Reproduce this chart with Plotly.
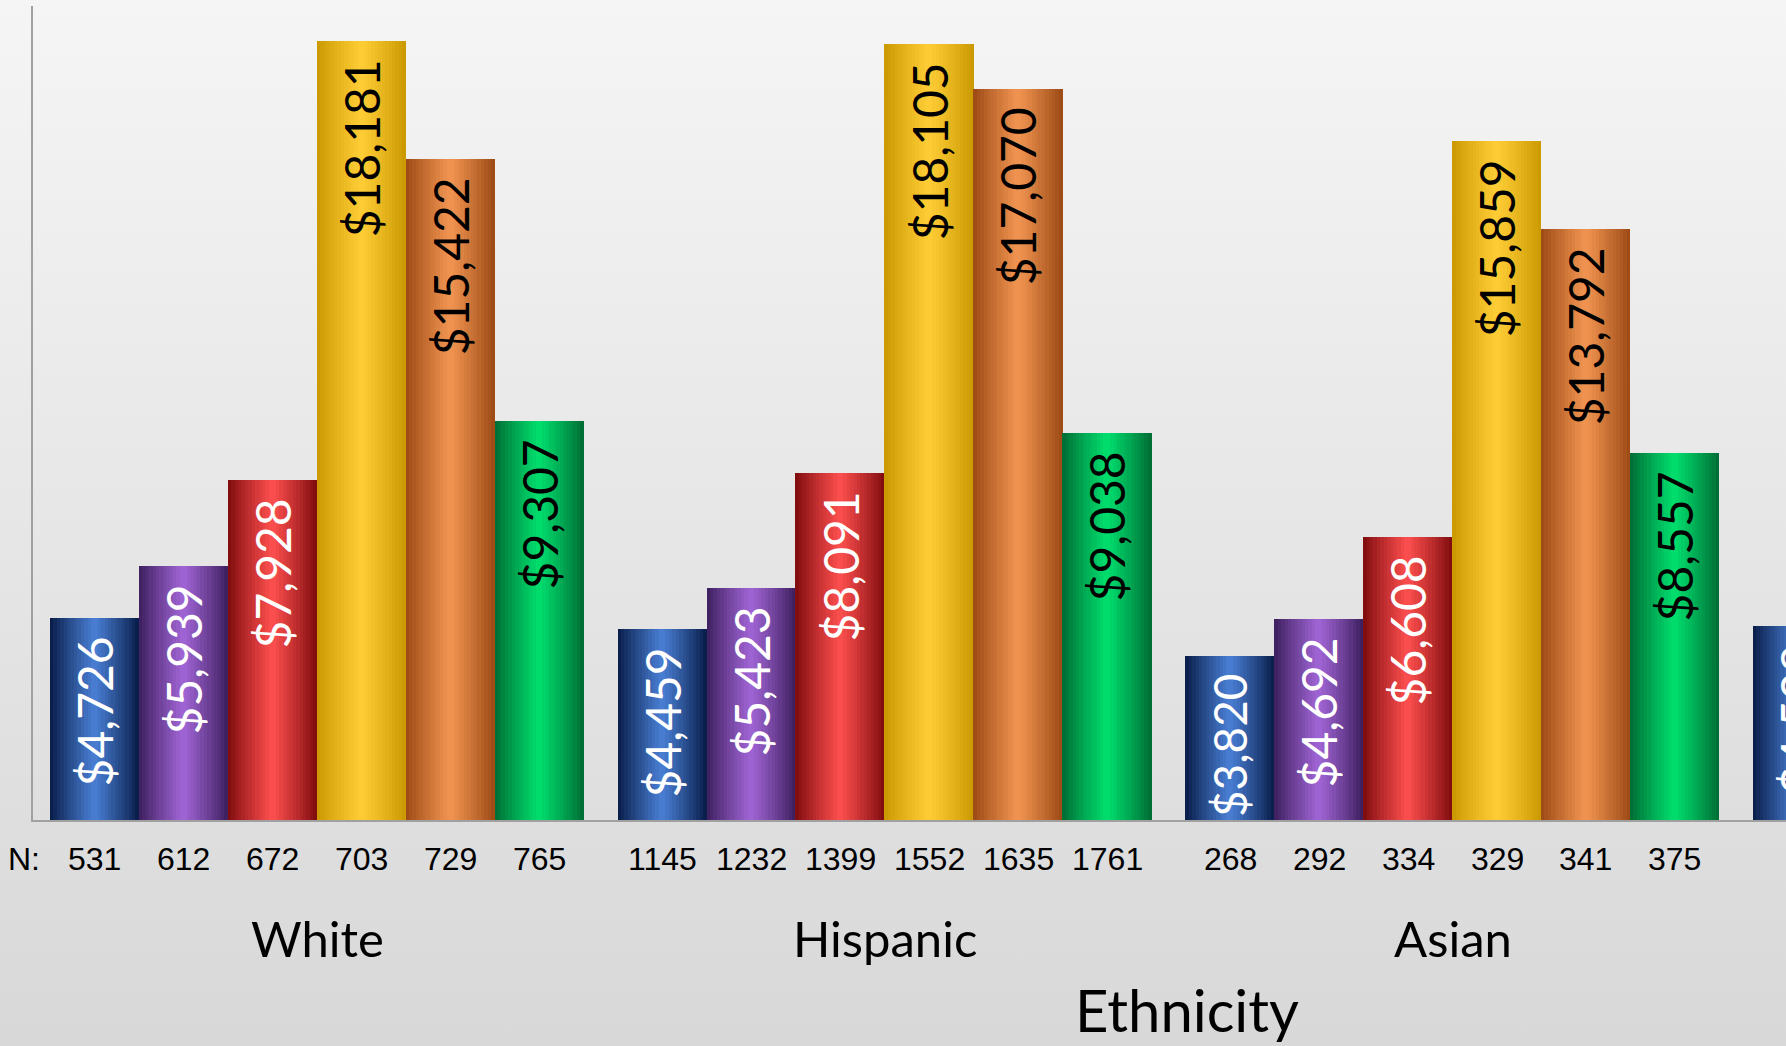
import base64
import plotly.graph_objects as go

# ---------------- data ----------------
groups = ["White", "Hispanic", "Asian", "Other"]
group_labels_visible = ["White", "Hispanic", "Asian"]
series_names = ["S1", "S2", "S3", "S4", "S5", "S6"]

s1 = [4726, 4459, 3820, 4528]
s2 = [5939, 5423, 4692, None]
s3 = [7928, 8091, 6608, None]
s4 = [18181, 18105, 15859, None]
s5 = [15422, 17070, 13792, None]
s6 = [9307, 9038, 8557, None]
series_values = [s1, s2, s3, s4, s5, s6]

n1 = ["531", "1145", "268", "1056"]
n2 = ["612", "1232", "292", None]
n3 = ["672", "1399", "334", None]
n4 = ["703", "1552", "329", None]
n5 = ["729", "1635", "341", None]
n6 = ["765", "1761", "375", None]
n_labels = [n1, n2, n3, n4, n5, n6]

axis_title = "Ethnicity"

# ---------------- style ----------------
edge_colors = ["#071a45", "#3a1d5c", "#7c0a0c", "#c99700", "#9a4814", "#006a34"]
center_colors = ["#4a80d6", "#a266d6", "#ff4f4f", "#ffcd35", "#f29552", "#00e06e"]
text_colors = ["white", "white", "white", "black", "black", "black"]

W, H = 1786, 1046
GAP = 0.06
NS = len(series_values)
BW = (1 - GAP) / NS
K = 26  # gradient strips per bar

N_FONT = "Liberation Sans Narrow, Arial Narrow, Liberation Sans, Arial"

def hex2rgb(h):
    h = h.lstrip("#")
    return tuple(int(h[i:i + 2], 16) for i in (0, 2, 4))

def mix(a, b, t):
    ra, rb = hex2rgb(a), hex2rgb(b)
    return "rgb(%d,%d,%d)" % tuple(round(ra[i] + (rb[i] - ra[i]) * t) for i in range(3))

fig = go.Figure()

for si, vals in enumerate(series_values):
    xs, ys, ws, cs = [], [], [], []
    for gi, v in enumerate(vals):
        if v is None:
            continue
        base = gi + (si - (NS - 1) / 2) * BW
        for k in range(K):
            u = (k + 0.5) / K
            t = 1 - abs(2 * u - 1)
            t = t ** 0.9
            xs.append(base - BW / 2 + u * BW)
            ys.append(v)
            ws.append(BW / K * 1.08)
            cs.append(mix(edge_colors[si], center_colors[si], t))
    fig.add_trace(go.Bar(x=xs, y=ys, width=ws, marker=dict(color=cs, line=dict(width=0)),
                         hoverinfo="skip", showlegend=False))

# value labels
for si, vals in enumerate(series_values):
    xs, ys, txt = [], [], []
    for gi, v in enumerate(vals):
        if v is None:
            continue
        xs.append(gi + (si - (NS - 1) / 2) * BW)
        ys.append(v)
        txt.append("${:,}".format(v) + "\u00a0\u200a")
    fig.add_trace(go.Bar(x=xs, y=ys, width=BW, text=txt, textposition="inside",
                         insidetextanchor="end", textangle=-90,
                         textfont=dict(family="Lato", size=48, color=text_colors[si]),
                         marker=dict(color="rgba(0,0,0,0)", line=dict(width=0)),
                         hoverinfo="skip", showlegend=False))

# layout geometry
x0_px, base_px, top_px = 33.3, 820, 6
cat_px = 567.7
x_dom0 = x0_px / W
x_max = -0.5 + (W - x0_px) / cat_px

annotations = []
for si, ns in enumerate(n_labels):
    for gi, n in enumerate(ns):
        if n is None:
            continue
        annotations.append(dict(x=gi + (si - (NS - 1) / 2) * BW, y=(H - 859) / H,
                                xref="x", yref="paper", text=n, showarrow=False,
                                xanchor="center", yanchor="middle",
                                font=dict(family=N_FONT, size=32, color="black")))
annotations.append(dict(x=24 / W, y=(H - 859) / H, xref="paper", yref="paper", text="N:",
                        showarrow=False, xanchor="center", yanchor="middle",
                        font=dict(family=N_FONT, size=32, color="black")))
for gi, g in enumerate(group_labels_visible):
    annotations.append(dict(x=gi, y=(H - 938) / H, xref="x", yref="paper", text=g,
                            showarrow=False, xanchor="center", yanchor="middle",
                            font=dict(family="Lato", size=49, color="black")))
annotations.append(dict(x=1187 / W, y=0, xref="paper", yref="paper", text=axis_title,
                        showarrow=False, xanchor="center", yanchor="bottom",
                        font=dict(family="Lato", size=58, color="black")))

svg = ('<svg xmlns="http://www.w3.org/2000/svg" width="100" height="100" preserveAspectRatio="none">'
       '<defs><linearGradient id="g" x1="0" y1="0" x2="0" y2="1">'
       '<stop offset="0" stop-color="#f5f5f5"/><stop offset="1" stop-color="#d8d8d8"/>'
       '</linearGradient></defs><rect width="100" height="100" fill="url(#g)"/></svg>')
bg_src = "data:image/svg+xml;base64," + base64.b64encode(svg.encode()).decode()

fig.update_layout(
    width=W, height=H, margin=dict(l=0, r=0, t=0, b=0),
    paper_bgcolor="#e6e6e6", plot_bgcolor="rgba(0,0,0,0)",
    barmode="overlay", bargap=0,
    images=[dict(source=bg_src, xref="paper", yref="paper", x=0, y=1, sizex=1, sizey=1,
                 sizing="stretch", layer="below", xanchor="left", yanchor="top")],
    xaxis=dict(domain=[x_dom0, 1], range=[-0.5, x_max], showticklabels=False, showgrid=False,
               zeroline=False, showline=True, linecolor="#a0a0a0", linewidth=2, ticks=""),
    yaxis=dict(domain=[(H - base_px) / H, (H - top_px) / H], range=[0, 19000], showticklabels=False,
               showgrid=False, zeroline=False, showline=True, linecolor="#a0a0a0", linewidth=2, ticks=""),
    annotations=annotations,
)

fig.write_html("out.html", config={"displayModeBar": False},
               post_script="document.body.style.margin='0';document.body.style.overflow='hidden';")
